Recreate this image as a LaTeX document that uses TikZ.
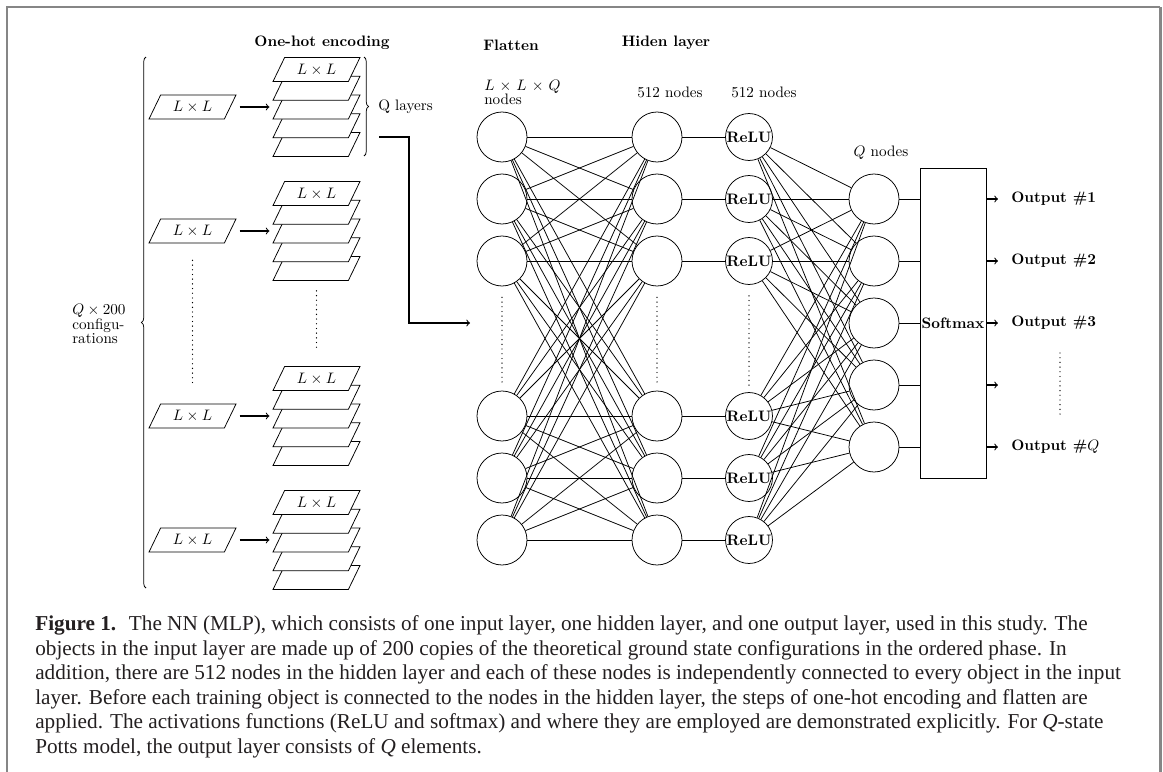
\documentclass[tikz,border=0pt]{standalone}
\usepackage{fontspec}
\newfontfamily\capfont{Liberation Serif}
\usetikzlibrary{shapes.geometric,decorations.pathreplacing,calc}
\definecolor{framegray}{HTML}{868686}
\definecolor{captext}{HTML}{231F20}
\begin{document}
\begin{tikzpicture}[x=0.66pt,y=-0.66pt,
  slab/.style={draw, fill=white, trapezium, trapezium left angle=45,
    trapezium right angle=135, trapezium stretches body,
    minimum width=57.4pt, minimum height=15.84pt, inner sep=0pt, line width=0.5pt},
  neuron/.style={circle, draw, minimum size=33pt, inner sep=0pt, line width=0.5pt},
  relu/.style={circle, draw, minimum size=31pt, inner sep=0pt, line width=0.5pt, font=\bfseries},
  link/.style={line width=0.5pt},
  arr/.style={->, line width=0.7pt},
  dots/.style={line width=0.9pt, line cap=round, dash pattern=on 0pt off 3.1pt},
  brc/.style={decorate, decoration={brace, amplitude=3pt}, line width=0.5pt},
  title/.style={font=\bfseries, inner sep=0pt},
  lbl/.style={inner sep=0pt},
  outlbl/.style={anchor=west, inner sep=0pt, font=\bfseries}]
\useasboundingbox (0,0) rectangle (1163,772);

% frame
\draw[framegray, line width=1.3pt] (7,772) -- (7,7) -- (1160,7);
\draw[framegray, line width=2.3pt] (1160.5,7) -- (1160.5,772);

% column titles
\node[title] (tOH) at (322,43) {One-hot encoding};
\node[title] (tFL) at (511,45) {Flatten};
\node[title] (tHL) at (666,43) {Hiden layer};

% configurations and their one-hot stacks
\foreach \g/\cy in {1/107,2/231,3/416,4/540}{
  \node[slab] (in\g) at (192.5,\cy) {$L\times L$};
  \foreach \k in {4,3,2,1}{
    \pgfmathsetmacro{\ly}{\cy-37.5+18.75*\k}
    \node[slab] (st\g-\k) at (316.5,\ly) {\phantom{$L\times L$}};
  }
  \node[slab] (st\g-0) at (316.5,\cy-37.5) {$L\times L$};
  \draw[arr] ($(in\g.center -| in\g.top right corner)+(3,0)$) --
             ($(st\g-2.center -| st\g-2.bottom left corner)+(-3,0)$);
}
\draw[dots] ($(in2.south)+(0,17)$) -- ($(in3.north)+(0,-19)$);
\draw[dots] ($(st2-4.south)+(0,10)$) -- ($(st3-0.north)+(0,-18)$);

% braces
\draw[brc] (146,588) -- (146,57);
\node[lbl, anchor=north west, align=left, font=\fontsize{10}{9.6}\selectfont] (cfg) at (72,304) {$Q\times 200$\\configu-\\rations};
\draw[brc] (364,57) -- (364,156);
\node[lbl, anchor=west] (ql) at (378,107) {Q layers};

% flatten connector
\coordinate (qa) at (379,137);
\coordinate (qb) at (470,323);
\draw[arr] (qa) -- ++(30,0) |- (qb);

% layer labels
\node[lbl, anchor=north west, align=left, font=\fontsize{10}{9.24}\selectfont] (lin) at (484,80) {$L$ $\times$ $L$ $\times$ $Q$\\nodes};
\node[lbl] (lh1) at (670,92) {512 nodes};
\node[lbl] (lh2) at (764,92) {512 nodes};
\node[lbl] (lq) at (881,153) {$Q$ nodes};

% network nodes
\foreach \i/\y in {1/137,2/199,3/261,4/416,5/478,6/540}{
  \node[neuron] (I\i) at (502,\y) {};
  \node[neuron] (H\i) at (657,\y) {};
  \node[relu] (R\i) at (749,\y) {ReLU};
}
\foreach \j/\y in {1/199,2/261,3/323,4/385,5/447}{
  \node[neuron] (O\j) at (874,\y) {};
}
\node[draw, line width=0.5pt, minimum width=43.4pt, minimum height=204.6pt, inner sep=0pt, font=\bfseries] (soft) at (953,323) {Softmax};

% connections
\foreach \i in {1,...,6}{
  \foreach \j in {1,...,6}{ \draw[link] (I\i) -- (H\j); }
  \draw[link] (H\i) -- (R\i);
  \foreach \j in {1,...,5}{ \draw[link] (R\i) -- (O\j); }
}
\foreach \c in {I,H,R}{
  \draw[dots] ($(\c3.south)+(0,11)$) -- ($(\c4.north)+(0,-6)$);
}

% outputs
\node[outlbl] (out1) at (1011,199) {Output \#1};
\node[outlbl] (out2) at (1011,261) {Output \#2};
\node[outlbl] (out3) at (1011,323) {Output \#3};
\coordinate (out4) at (1011,385);
\node[outlbl] (out5) at (1011,447) {Output \#$Q$};
\foreach \j in {1,...,5}{
  \draw[link] (O\j) -- (soft.west |- O\j);
  \draw[arr, shorten >=8.6pt] (soft.east |- O\j) -- (out\j.west);
}
\draw[dots] (1060,353) -- (1060,417);

% caption
\node[anchor=base west, align=left, inner sep=0pt, text=captext,
  font=\capfont\fontsize{14}{16.2}\selectfont] (cap) at (35,753.5) {%
\textbf{Figure 1.}\hspace{0.6em}The NN (MLP), which consists of one input layer, one hidden layer, and one output layer, used in this study. The\\
objects in the input layer are made up of 200 copies of the theoretical ground state configurations in the ordered phase. In\\
addition, there are 512 nodes in the hidden layer and each of these nodes is independently connected to every object in the input\\
layer. Before each training object is connected to the nodes in the hidden layer, the steps of one-hot encoding and flatten are\\
applied. The activations functions (ReLU and softmax) and where they are employed are demonstrated explicitly. For \textit{Q}-state\\
Potts model, the output layer consists of \textit{Q} elements.};
\end{tikzpicture}
\end{document}
